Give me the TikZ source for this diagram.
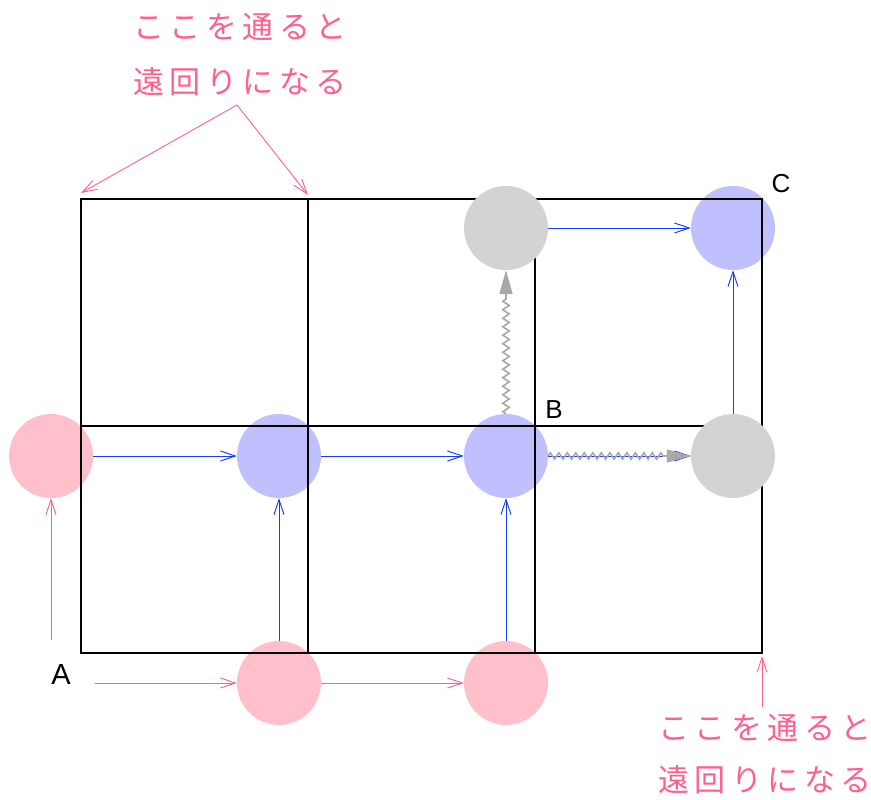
\documentclass[tikz,border=0pt]{standalone}
\usepackage{fontspec}
\setmainfont{Liberation Sans}
\newfontfamily\jp{Noto Sans CJK JP}
\usetikzlibrary{arrows.meta,decorations.pathmorphing}
\definecolor{cpink}{RGB}{255,192,203}
\definecolor{cblue}{RGB}{192,192,255}
\definecolor{cgray}{RGB}{211,211,211}
\definecolor{lpink}{RGB}{255,96,144}
\definecolor{lblue}{RGB}{20,60,255}
\definecolor{wgray}{RGB}{168,168,168}
\begin{document}
\begin{tikzpicture}[x=1pt,y=-1pt,
  dot/.style={circle,minimum size=84pt,inner sep=0pt,draw=none},
  pinkdot/.style={dot,fill=cpink},
  bluedot/.style={dot,fill=cblue},
  graydot/.style={dot,fill=cgray},
  gridline/.style={line width=2.7pt,black},
  barb/.style={-{Straight Barb[length=15pt,width=10pt]}},
  bluearrow/.style={barb,lblue,line width=0.9pt},
  pinkarrow/.style={barb,lpink,line width=0.9pt},
  wave/.style={-{Triangle[length=24pt,width=13pt]},wgray,line width=1.6pt,
    decorate,decoration={zigzag,amplitude=3.2pt,segment length=8.5pt,post length=25pt}},
  jptext/.style={lpink,font=\jp\fontsize{31}{34}\selectfont\addfontfeature{LetterSpace=18}},
  letter/.style={black,font=\fontsize{26}{28}\selectfont}
]
\useasboundingbox (0,0) rectangle (871,800);
% circles under the grid
\node[pinkdot] (p1) at (51,456) {};
\node[pinkdot] (p2) at (279,683) {};
\node[pinkdot] (p3) at (506,683) {};
\node[bluedot] (b1) at (279,456) {};
\node[bluedot] (b2) at (506,456) {};
\node[bluedot] (b3) at (733,228) {};
% grid
\draw[gridline] (81,199) rectangle (762,653);
\draw[gridline] (308,199) -- (308,653);
\draw[gridline] (535,199) -- (535,653);
\draw[gridline] (81,426) -- (762,426);
% gray circles over the grid
\node[graydot] (g1) at (506,228) {};
\node[graydot] (g2) at (733,456) {};
% labels
\node[letter,font=\fontsize{29}{30}\selectfont] (la) at (61,675) {A};
\node[letter] (lb) at (554,410) {B};
\node[letter] (lc) at (781,184) {C};
% start coordinates
\coordinate (s1) at (51,640);
\coordinate (s2) at (95,683);
% pink arrows
\draw[pinkarrow] (s1) -- (p1);
\draw[pinkarrow] (s2) -- (p2);
\draw[pinkarrow] (p2) -- (p3);
% blue arrows
\draw[bluearrow] (p1) -- (b1);
\draw[bluearrow] (b1) -- (b2);
\draw[bluearrow] (p2) -- (b1);
\draw[bluearrow] (p3) -- (b2);
\draw[bluearrow] (b2) -- (g2);
\draw[bluearrow] (g1) -- (b3);
\draw[bluearrow] (g2) -- (b3);
% gray wavy arrows
\draw[wave] (b2) -- (g1);
\draw[wave] (b2) -- (g2);
% annotations
\node[jptext] (t1) at (240,27) {ここを通ると};
\node[jptext] (t2) at (240,82) {遠回りになる};
\node[jptext] (t3) at (765,728) {ここを通ると};
\node[jptext] (t4) at (765,780) {遠回りになる};
\coordinate (ap) at (237,105);
\coordinate (e1) at (81,193);
\coordinate (e2) at (308,195);
\coordinate (bs) at (762,707);
\coordinate (be) at (762,656);
\draw[pinkarrow] (ap) -- (e1);
\draw[pinkarrow] (ap) -- (e2);
\draw[pinkarrow] (bs) -- (be);
\end{tikzpicture}
\end{document}
